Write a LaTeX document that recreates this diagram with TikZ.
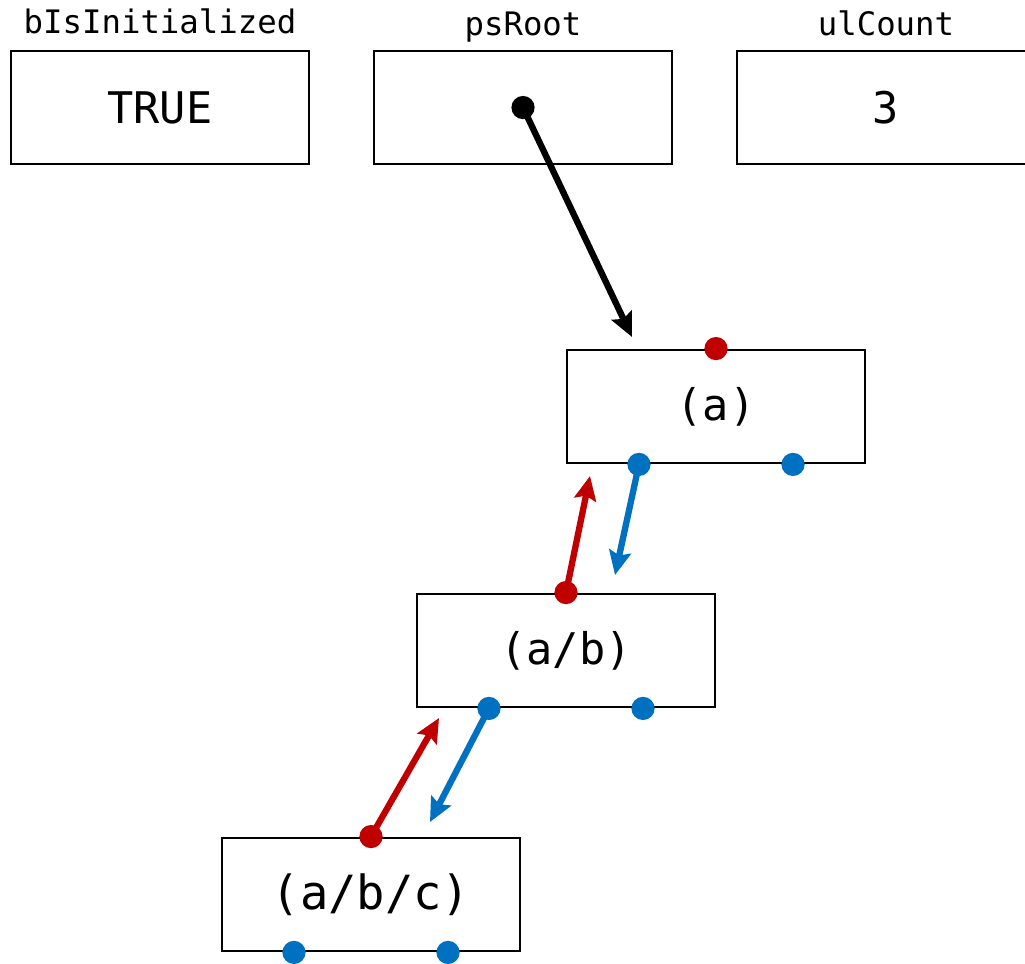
\documentclass[tikz,border=0pt]{standalone}
\usepackage{fontspec}
\setmonofont{DejaVu Sans Mono}
\usetikzlibrary{arrows.meta}
\definecolor{ptrred}{RGB}{192,0,0}
\definecolor{ptrblue}{RGB}{0,112,192}

\begin{document}
\begin{tikzpicture}[x=0.025cm,y=-0.025cm,>={Stealth[length=0.6cm,width=0.55cm,inset=0.1cm]},
  var/.style={draw,line width=2pt,minimum width=7.45cm,minimum height=2.825cm,inner sep=0pt,font=\ttfamily\fontsize{31}{37}\selectfont},
  varname/.style={anchor=base,font=\ttfamily\fontsize{23}{27}\selectfont},
  pdot/.style={circle,fill,inner sep=0pt,minimum size=0.58cm},
  ptr/.style={->,line width=4.5pt}]
\useasboundingbox (0,0) rectangle (1025,963);
\node[var] (init) at (160,107.5) {TRUE};
\node[var] (root) at (523,107.5) {};
\node[var] (count) at (886,107.5) {3};
\node[varname] (initlbl) at (160,33) {bIsInitialized};
\node[varname] (rootlbl) at (523,35) {psRoot};
\node[varname] (countlbl) at (886,35) {ulCount};
\node[var] (a) at (716,406.5) {(a)};
\node[var] (ab) at (566,650.5) {(a/b)};
\node[var,font=\ttfamily\fontsize{33.5}{40}\selectfont] (abc) at (371,894.5) {(a/b/c)};
% free ends of the pointers
\coordinate (rootend) at (632,337);
\coordinate (aup) at (590,476);
\coordinate (abdown) at (615,575);
\coordinate (abup) at (439,718);
\coordinate (abcdown) at (430,822);
\coordinate (aleft) at ([xshift=-1.925cm]a.south);
\coordinate (aright) at ([xshift=1.925cm]a.south);
\coordinate (ableft) at ([xshift=-1.925cm]ab.south);
\coordinate (abright) at ([xshift=1.925cm]ab.south);
\coordinate (abcleft) at ([xshift=-1.925cm]abc.south);
\coordinate (abcright) at ([xshift=1.925cm]abc.south);
\draw[ptr] (root.center) -- (rootend);
\draw[ptr,ptrred] (ab.north) -- (aup);
\draw[ptr,ptrblue] (aleft) -- (abdown);
\draw[ptr,ptrred] (abc.north) -- (abup);
\draw[ptr,ptrblue] (ableft) -- (abcdown);
\node[pdot] (rootdot) at (root.center) {};
\node[pdot,ptrred] (aparent) at (a.north) {};
\node[pdot,ptrblue] (achild) at (aleft) {};
\node[pdot,ptrblue] (anext) at (aright) {};
\node[pdot,ptrred] (abparent) at (ab.north) {};
\node[pdot,ptrblue] (abchild) at (ableft) {};
\node[pdot,ptrblue] (abnext) at (abright) {};
\node[pdot,ptrred] (abcparent) at (abc.north) {};
\node[pdot,ptrblue] (abcchild) at (abcleft) {};
\node[pdot,ptrblue] (abcnext) at (abcright) {};
\end{tikzpicture}
\end{document}
